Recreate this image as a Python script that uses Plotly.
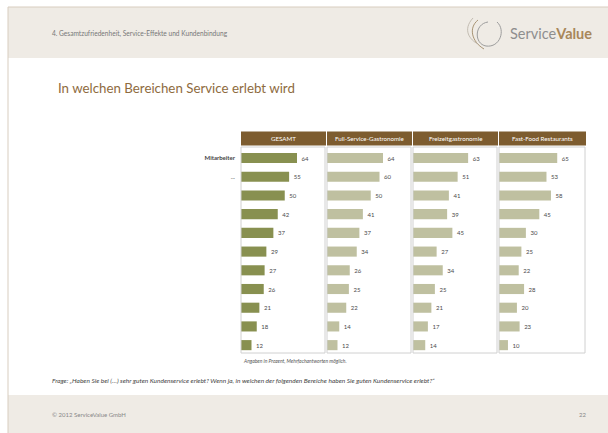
import plotly.graph_objects as go

W, H = 608, 433

categories = ["Mitarbeiter", "...", "", "", "", "", "", "", "", "", ""]
panel_titles = ["GESAMT", "Full-Service-Gastronomie", "Freizeitgastronomie", "Fast-Food Restaurants"]
gesamt = [64, 55, 50, 42, 37, 29, 27, 26, 21, 18, 12]
full_service = [64, 60, 50, 41, 37, 34, 26, 25, 22, 14, 12]
freizeit = [63, 51, 41, 39, 45, 27, 34, 25, 21, 17, 14]
fast_food = [65, 53, 58, 45, 30, 25, 22, 28, 20, 23, 10]
series = [gesamt, full_service, freizeit, fast_food]

header_text = "4. Gesamtzufriedenheit, Service-Effekte und Kundenbindung"
title_text = "In welchen Bereichen Service erlebt wird"
note_text = "Angaben in Prozent, Mehrfachantworten möglich."
question_text = ("Frage: \u201eHaben Sie bei (\u2026) sehr guten Kundenservice erlebt? Wenn ja, in welchen der "
                 "folgenden Bereiche haben Sie guten Kundenservice erlebt?\u201c")
footer_text = "© 2012 ServiceValue GmbH"
page_no = "22"

FONT = "Lato, 'Open Sans', sans-serif"
BAND = "#EFEBE5"
BORDER = "#D8CDBF"
BROWN = "#7D5C2F"
TITLE_C = "#8E6B3E"
DARK = "#889050"
LIGHT = "#BFC0A0"
PANEL_LINE = "#D0D0D0"


def px(x):
    return x / W


def py(y):
    return 1 - y / H


panel_x = [(241, 325), (327, 411), (413, 497), (499, 585)]
panel_top, panel_bot = 147, 353

fig = go.Figure()
rows = list(range(len(categories)))

for i, vals in enumerate(series):
    ax = "x" if i == 0 else f"x{i+1}"
    fig.add_trace(go.Bar(
        x=vals, y=rows, orientation="h", xaxis=ax, yaxis="y",
        marker=dict(color=DARK if i == 0 else LIGHT, line=dict(width=0)),
        width=0.54,
        text=["\u00a0" + str(v) for v in vals], textposition="outside",
        textfont=dict(family=FONT, size=6, color="#4A4A4A"),
        constraintext="none", cliponaxis=False, hoverinfo="skip", showlegend=False,
    ))

layout = dict(
    width=W, height=H, margin=dict(l=0, r=0, t=0, b=0),
    paper_bgcolor="white", plot_bgcolor="rgba(0,0,0,0)",
    font=dict(family=FONT, color="#666666"),
    bargap=0.4,
    yaxis=dict(
        domain=[py(panel_bot), py(panel_top)], range=[10.42, -0.59],
        tickvals=rows,
        ticktext=["<b>" + c + "</b>" if c == "Mitarbeiter" else c for c in categories],
        tickfont=dict(family=FONT, size=6, color="#444444"),
        showgrid=False, zeroline=False, showline=False, ticks="", ticklabelstandoff=5,
        anchor="x", fixedrange=True,
    ),
)
for i, (x0, x1) in enumerate(panel_x):
    key = "xaxis" if i == 0 else f"xaxis{i+1}"
    layout[key] = dict(domain=[px(x0), px(x1)], range=[0, 96], showgrid=False, zeroline=False,
                       showticklabels=False, ticks="", showline=False, anchor="y", fixedrange=True)
fig.update_layout(**layout)

shapes = []
shapes.append(dict(type="rect", xref="paper", yref="paper", x0=px(8), x1=1, y0=py(58), y1=py(7),
                   fillcolor=BAND, line=dict(width=0), layer="below"))
shapes.append(dict(type="rect", xref="paper", yref="paper", x0=px(8), x1=1, y0=0, y1=py(395),
                   fillcolor=BAND, line=dict(width=0), layer="below"))
shapes.append(dict(type="line", xref="paper", yref="paper", x0=px(8), x1=1, y0=py(7), y1=py(7),
                   line=dict(color=BORDER, width=1)))
shapes.append(dict(type="line", xref="paper", yref="paper", x0=px(8), x1=px(8), y0=0, y1=py(7),
                   line=dict(color=BORDER, width=1)))

for i, (x0, x1) in enumerate(panel_x):
    ax = "x" if i == 0 else f"x{i+1}"
    shapes.append(dict(type="rect", xref="paper", yref="paper", x0=px(x0), x1=px(x1 + 1),
                       y0=py(145.5), y1=py(131.5), fillcolor=BROWN, line=dict(width=0)))
    shapes.append(dict(type="rect", xref=f"{ax} domain", yref="y domain", x0=0, x1=1, y0=0, y1=1,
                       line=dict(color=PANEL_LINE, width=1), fillcolor="rgba(0,0,0,0)"))


def pth(points):
    s = "M %f,%f" % (px(points[0][0]), py(points[0][1]))
    rest = points[1:]
    for k in range(0, len(rest), 3):
        (a, b), (c, d), (e, f) = rest[k:k + 3]
        s += " C %f,%f %f,%f %f,%f" % (px(a), py(b), px(c), py(d), px(e), py(f))
    return s


shapes.append(dict(type="path", xref="paper", yref="paper",
                   path=pth([(497, 22), (506, 30), (500, 48), (486, 46), (474, 44), (474, 24), (488, 22)]),
                   line=dict(color="#9C9C9C", width=1)))
shapes.append(dict(type="path", xref="paper", yref="paper",
                   path=pth([(478, 20), (468, 28), (472, 42), (484, 49)]),
                   line=dict(color="#A89373", width=1)))
shapes.append(dict(type="path", xref="paper", yref="paper",
                   path=pth([(473, 18), (462, 30), (470, 40), (478, 44)]),
                   line=dict(color="#B7B0A4", width=0.8)))
fig.update_layout(shapes=shapes)

ann = []


def text(x, y, s, size, color, xanchor="left", italic=False, bold=False):
    if italic:
        s = "<i>" + s + "</i>"
    if bold:
        s = "<b>" + s + "</b>"
    ann.append(dict(xref="paper", yref="paper", x=px(x), y=py(y), text=s, showarrow=False,
                    xanchor=xanchor, yanchor="middle", font=dict(family=FONT, size=size, color=color)))


text(50, 33, header_text, 6.6, "#777777")
ann.append(dict(xref="paper", yref="paper", x=px(508), y=py(33), showarrow=False, xanchor="left",
                yanchor="middle",
                text="<span style='color:#8E8E8E'>Service</span><span style='color:#A8875A'><b>Value</b></span>",
                font=dict(family=FONT, size=14.5)))
text(56, 88, title_text, 13.3, TITLE_C)
for (x0, x1), t in zip(panel_x, panel_titles):
    ann.append(dict(xref="paper", yref="paper", x=px((x0 + x1 + 1) / 2), y=py(138.5), text=t,
                    showarrow=False, xanchor="center", yanchor="middle",
                    font=dict(family=FONT, size=6.2, color="white")))
text(241, 361, note_text, 5, "#555555", italic=True)
text(50, 380, question_text, 6.5, "#444444", italic=True)
text(50, 414, footer_text, 6, "#888888")
text(588, 414, page_no, 6, "#888888", xanchor="right")
fig.update_layout(annotations=ann)

fig.write_html("out.html")
